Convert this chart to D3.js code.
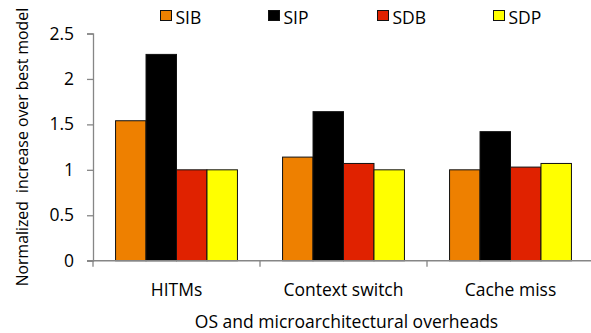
<!DOCTYPE html>
<html>
<head>
<meta charset="utf-8">
<script src="https://cdn.jsdelivr.net/npm/d3@7"></script>
<style>
  html, body { margin: 0; padding: 0; background: #fff; }
  svg { display: block; }
  text { font-family: "Open Sans", "Liberation Sans", sans-serif; fill: #000; }
</style>
</head>
<body>
<svg id="chart" width="591" height="333"></svg>
<script>
// Overhead categories and per-model normalized values
const categories = ["HITMs", "Context switch", "Cache miss"];
const seriesNames = ["SIB", "SIP", "SDB", "SDP"];
const SIB = [1.54, 1.14, 1.00];
const SIP = [2.27, 1.64, 1.42];
const SDB = [1.00, 1.07, 1.03];
const SDP = [1.00, 1.00, 1.07];
const yTicks = [0, 0.5, 1, 1.5, 2, 2.5];
const colors = ["#EE8000", "#000000", "#E02200", "#FFFF00"];

const seriesValues = [SIB, SIP, SDB, SDP];
const rows = categories.map((c, i) => ({
  category: c,
  values: seriesNames.map((s, j) => ({ series: s, value: seriesValues[j][i], color: colors[j] }))
}));

const svg = d3.select("#chart");
const margin = { left: 93, right: -3, top: 33.5, bottom: 72.3 };
const W = 591, H = 333;

const x0 = d3.scaleBand()
  .domain(categories)
  .range([margin.left, W - margin.right])
  .paddingInner(0)
  .paddingOuter(0);

const x1 = d3.scaleBand()
  .domain(seriesNames)
  .range([0, x0.bandwidth()])
  .paddingInner(0)
  .paddingOuter(0.74);

const y = d3.scaleLinear()
  .domain([0, 2.5])
  .range([H - margin.bottom, margin.top]);

const axisColor = "#868686";

// Bars
const groups = svg.append("g")
  .selectAll("g")
  .data(rows)
  .join("g")
  .attr("transform", d => `translate(${x0(d.category)},0)`);

groups.selectAll("rect")
  .data(d => d.values)
  .join("rect")
  .attr("x", d => x1(d.series))
  .attr("y", d => y(d.value))
  .attr("width", x1.bandwidth())
  .attr("height", d => y(0) - y(d.value))
  .attr("fill", d => d.color)
  .attr("stroke", "#111")
  .attr("stroke-width", 1);

// Y axis
const yAxis = svg.append("g")
  .attr("transform", `translate(${margin.left},0)`)
  .call(d3.axisLeft(y).tickValues(yTicks).tickFormat(d3.format("")).tickSize(6).tickPadding(13));
yAxis.select(".domain").attr("stroke", axisColor).attr("stroke-width", 1.3);
yAxis.selectAll(".tick line").attr("stroke", axisColor).attr("stroke-width", 1.3);
yAxis.selectAll(".tick text")
  .attr("font-size", 17.5)
  .style("font-family", "'Open Sans', sans-serif");

// X axis: baseline with ticks at category boundaries
const xAxisG = svg.append("g");
xAxisG.append("line")
  .attr("x1", margin.left - 6).attr("x2", W)
  .attr("y1", y(0)).attr("y2", y(0))
  .attr("stroke", axisColor).attr("stroke-width", 1.5);
const boundaries = categories.map(c => x0(c)).concat([x0(categories[categories.length - 1]) + x0.bandwidth()]);
xAxisG.selectAll("line.tk")
  .data(boundaries)
  .join("line")
  .attr("class", "tk")
  .attr("x1", d => d).attr("x2", d => d)
  .attr("y1", y(0)).attr("y2", y(0) + 6)
  .attr("stroke", axisColor).attr("stroke-width", 1.3);

xAxisG.selectAll("text.cat")
  .data(categories)
  .join("text")
  .attr("class", "cat")
  .attr("x", d => x0(d) + x0.bandwidth() / 2)
  .attr("y", 295.5)
  .attr("text-anchor", "middle")
  .attr("font-size", 17.5)
  .text(d => d);

// Axis titles
svg.append("text")
  .attr("x", (margin.left + W - margin.right) / 2 + 3)
  .attr("y", 327.5)
  .attr("text-anchor", "middle")
  .attr("font-size", 17.5)
  .text("OS and microarchitectural overheads");

svg.append("text")
  .attr("transform", `translate(28,${(y(0) + y(2.5)) / 2}) rotate(-90)`)
  .attr("text-anchor", "middle")
  .attr("font-size", 15.8)
  .style("white-space", "pre")
  .text("Normalized  increase over best model");

// Legend
const legendX = [160, 268, 377, 493];
const legend = svg.append("g")
  .selectAll("g")
  .data(seriesNames)
  .join("g")
  .attr("transform", (d, i) => `translate(${legendX[i]},10)`);
legend.append("rect")
  .attr("x", 0.5).attr("y", 0.5)
  .attr("width", 11).attr("height", 10)
  .attr("fill", (d, i) => colors[i])
  .attr("stroke", "#111")
  .attr("stroke-width", 1);
legend.append("text")
  .attr("x", 15.5)
  .attr("y", 14)
  .attr("font-size", 17.5)
  .text(d => d);
</script>
</body>
</html>
